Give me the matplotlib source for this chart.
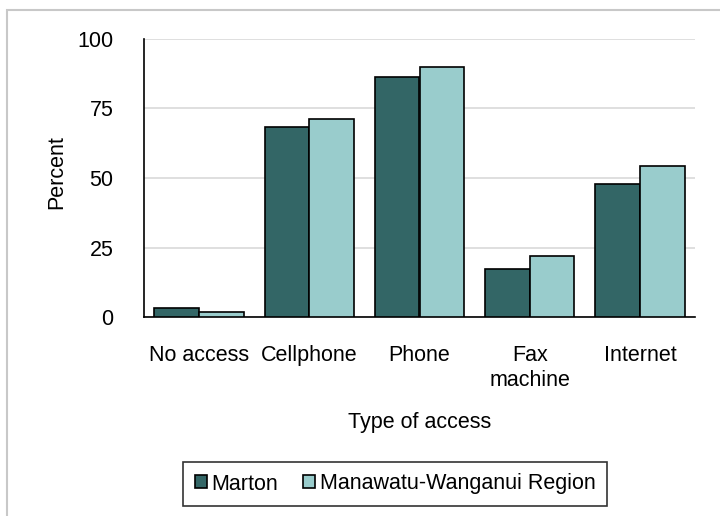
import matplotlib.pyplot as plt
import matplotlib.patches as mpatches
import numpy as np

plt.rcParams['font.family'] = ['Liberation Sans', 'DejaVu Sans']

categories = ['No access', 'Cellphone', 'Phone', 'Fax\nmachine', 'Internet']
marton = [3.4, 68.4, 86.2, 17.1, 47.8]
region = [1.8, 71.2, 90.0, 21.9, 54.2]
series_names = ['Marton', 'Manawatu-Wanganui Region']
colors = ['#336666', '#99cccc']
yticks = [0, 25, 50, 75, 100]

W, H = 720, 516
fs = 15.5
fig = plt.figure(figsize=(W / 100, H / 100), dpi=100)

# outer grey frame of the chart
fig.patches.append(mpatches.Rectangle((7 / W, -0.1), 1.1, 1 - 10 / H + 0.1,
                                      transform=fig.transFigure, fill=False,
                                      edgecolor='#c8c8c8', linewidth=1.5))

ax = fig.add_axes([144 / W, 1 - 317 / H, (695 - 144) / W, (317 - 39) / H])

x = np.arange(len(categories))
w = 0.405
ax.bar(x - w / 2, marton, w, color=colors[0], edgecolor='black', linewidth=1.2,
       label=series_names[0], zorder=3)
ax.bar(x + w / 2, region, w, color=colors[1], edgecolor='black', linewidth=1.2,
       label=series_names[1], zorder=3)

ax.set_xlim(-0.5, len(categories) - 0.5)
ax.set_ylim(0, 100)
ax.set_yticks(yticks)
ax.set_xticks(x)
ax.set_xticklabels(categories, fontsize=fs, linespacing=1.25)
ax.tick_params(axis='y', length=0, pad=22, labelsize=fs)
ax.tick_params(axis='x', length=0, pad=20)
ax.yaxis.grid(True, color='#d9d9d9', linewidth=1.2, zorder=0)
for s in ['top', 'right']:
    ax.spines[s].set_visible(False)
for s in ['left', 'bottom']:
    ax.spines[s].set_color('black')
    ax.spines[s].set_linewidth(1.2)

ax.set_ylabel('Percent', fontsize=fs)
ax.set_xlabel('Type of access', fontsize=fs, labelpad=15)
ax.yaxis.set_label_coords(-0.14, 0.52)

leg = ax.legend(loc='center', bbox_to_anchor=(395 / W, 1 - 484 / H),
                bbox_transform=fig.transFigure, ncol=2, fontsize=fs,
                frameon=True, fancybox=False, edgecolor='black',
                handlelength=0.55, handleheight=0.55, handletextpad=0.2,
                columnspacing=1.2, borderpad=0.55)
leg.get_frame().set_linewidth(1.2)

fig.savefig('out.png', dpi=100)
